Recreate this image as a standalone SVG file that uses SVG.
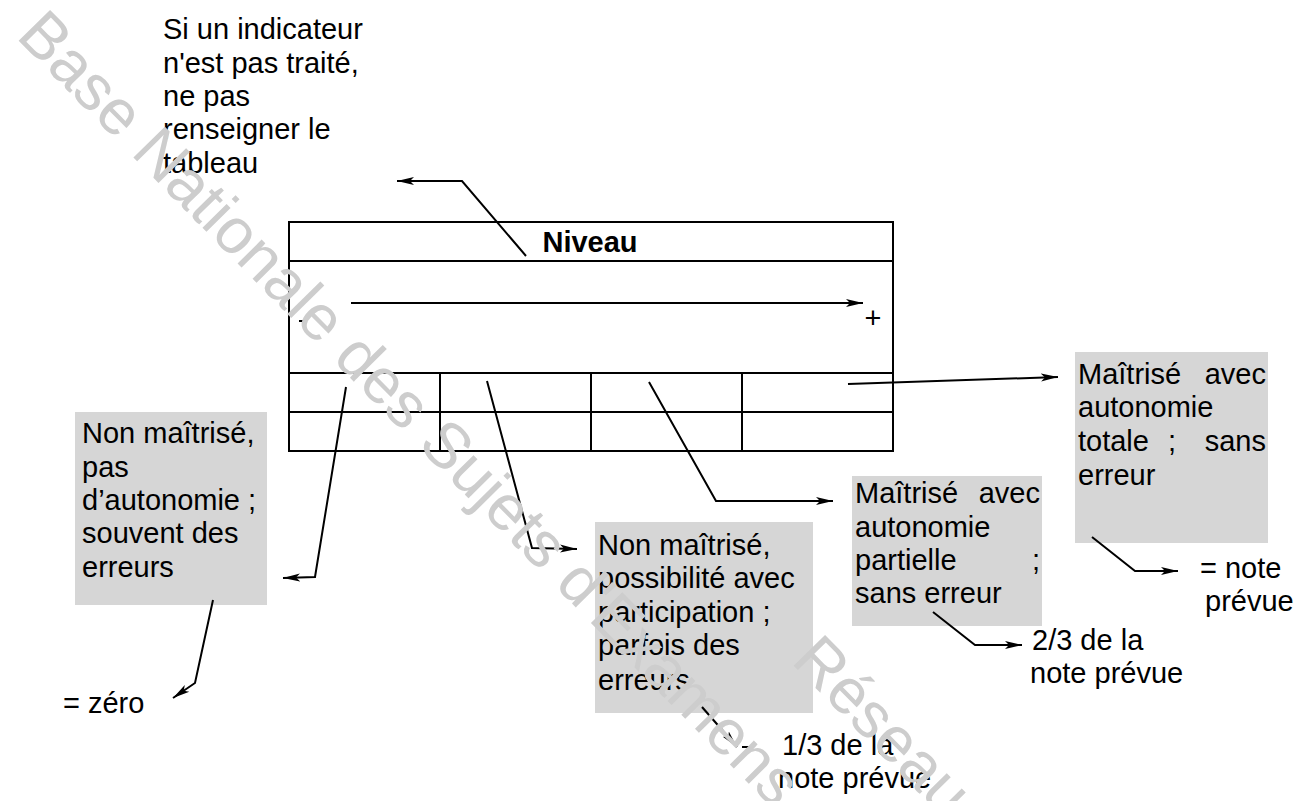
<svg xmlns="http://www.w3.org/2000/svg" width="1304" height="801" viewBox="0 0 1304 801">
<defs>
<marker id="arr" markerUnits="userSpaceOnUse" markerWidth="18" markerHeight="10" refX="17" refY="5" orient="auto">
<path d="M0,1 L17,5 L0,9 L4,5 Z" fill="#000"/>
</marker>
<style>
text{font-family:"Liberation Sans",Arial,sans-serif;font-size:29px;fill:#000}
.b{font-weight:bold}
.box{fill:#d6d6d6;stroke:none}
.tl{fill:none;stroke:#000;stroke-width:2}
.c{fill:none;stroke:#000;stroke-width:2;marker-end:url(#arr)}
.wm{font-size:64px;fill:#cdcdcd}
</style>
</defs>
<rect width="1304" height="801" fill="#fff"/>

<g id="note-top">
<text x="163" y="39">Si un indicateur</text>
<text x="163" y="73">n'est pas traité,</text>
<text x="163" y="106">ne pas</text>
<text x="163" y="139">renseigner le</text>
<text x="163" y="173">tableau</text>
</g>

<g id="table">
<rect class="tl" x="289" y="222" width="604" height="229"/>
<line class="tl" x1="289" y1="261" x2="893" y2="261"/>
<line class="tl" x1="289" y1="373" x2="893" y2="373"/>
<line class="tl" x1="289" y1="412" x2="893" y2="412"/>
<line class="tl" x1="440" y1="373" x2="440" y2="451"/>
<line class="tl" x1="591" y1="373" x2="591" y2="451"/>
<line class="tl" x1="742" y1="373" x2="742" y2="451"/>
<text class="b" x="590" y="252" text-anchor="middle" font-size="30">Niveau</text>
<path class="c" d="M351,303 L863,303"/>
<line class="tl" x1="299" y1="321" x2="307" y2="321"/>
<text x="873" y="328" text-anchor="middle" font-size="24">+</text>
</g>

<g id="box1">
<rect class="box" x="75" y="412" width="192" height="193"/>
<text x="82" y="443">Non maîtrisé,</text>
<text x="82" y="477">pas</text>
<text x="82" y="510">d’autonomie ;</text>
<text x="82" y="543">souvent des</text>
<text x="82" y="577">erreurs</text>
</g>

<g id="box2">
<rect class="box" x="595" y="522" width="218" height="191"/>
<text x="598" y="555">Non maîtrisé,</text>
<text x="598" y="588">possibilité avec</text>
<text x="598" y="622">participation ;</text>
<text x="598" y="655">parfois des</text>
<text x="598" y="690">erreurs</text>
</g>

<g id="box3">
<rect class="box" x="852" y="476" width="190" height="150"/>
<text x="855" y="503">Maîtrisé</text><text x="1040" y="503" text-anchor="end">avec</text>
<text x="855" y="537">autonomie</text>
<text x="855" y="570">partielle</text><text x="1040" y="570" text-anchor="end">;</text>
<text x="855" y="603">sans erreur</text>
</g>

<g id="box4">
<rect class="box" x="1075" y="352" width="193" height="191"/>
<text x="1078" y="384">Maîtrisé</text><text x="1266" y="384" text-anchor="end">avec</text>
<text x="1078" y="417">autonomie</text>
<text x="1078" y="451">totale</text><text x="1172" y="451" text-anchor="middle">;</text><text x="1266" y="451" text-anchor="end">sans</text>
<text x="1078" y="485">erreur</text>
</g>

<g id="zero"><text x="63" y="713">= zéro</text></g>
<g id="tiers"><text x="782" y="755">1/3 de la</text><text x="778" y="788">note prévue</text></g>
<g id="deux-tiers"><text x="1032" y="650">2/3 de la</text><text x="1030" y="683">note prévue</text></g>
<g id="note"><text x="1200" y="578">= note</text><text x="1205" y="611">prévue</text></g>

<g id="connectors">
<path class="c" d="M526,256 L462,181 L397,181"/>
<path class="c" d="M346,387 L315,577 L283,578"/>
<path class="c" d="M487,381 L532,548 L577,549"/>
<path class="c" d="M649,382 L716,501 L833,501"/>
<path class="c" d="M848,384 L1058,377"/>
<path class="c" d="M213,600 L195,683 L173,698"/>
<path class="c" d="M702,707 L737,747"/>
<line class="tl" x1="742" y1="747" x2="750" y2="747"/>
<path class="c" d="M933,612 L975,645 L1022,645"/>
<path class="c" d="M1092,537 L1135,571 L1178,571"/>
</g>

<g id="watermark">
<text class="wm" transform="translate(15,37) rotate(45.5)">Base Nationale des Sujets d'Examens</text>
<text class="wm" transform="translate(790,662) rotate(45.5)">Réseau S</text>
</g>
</svg>
